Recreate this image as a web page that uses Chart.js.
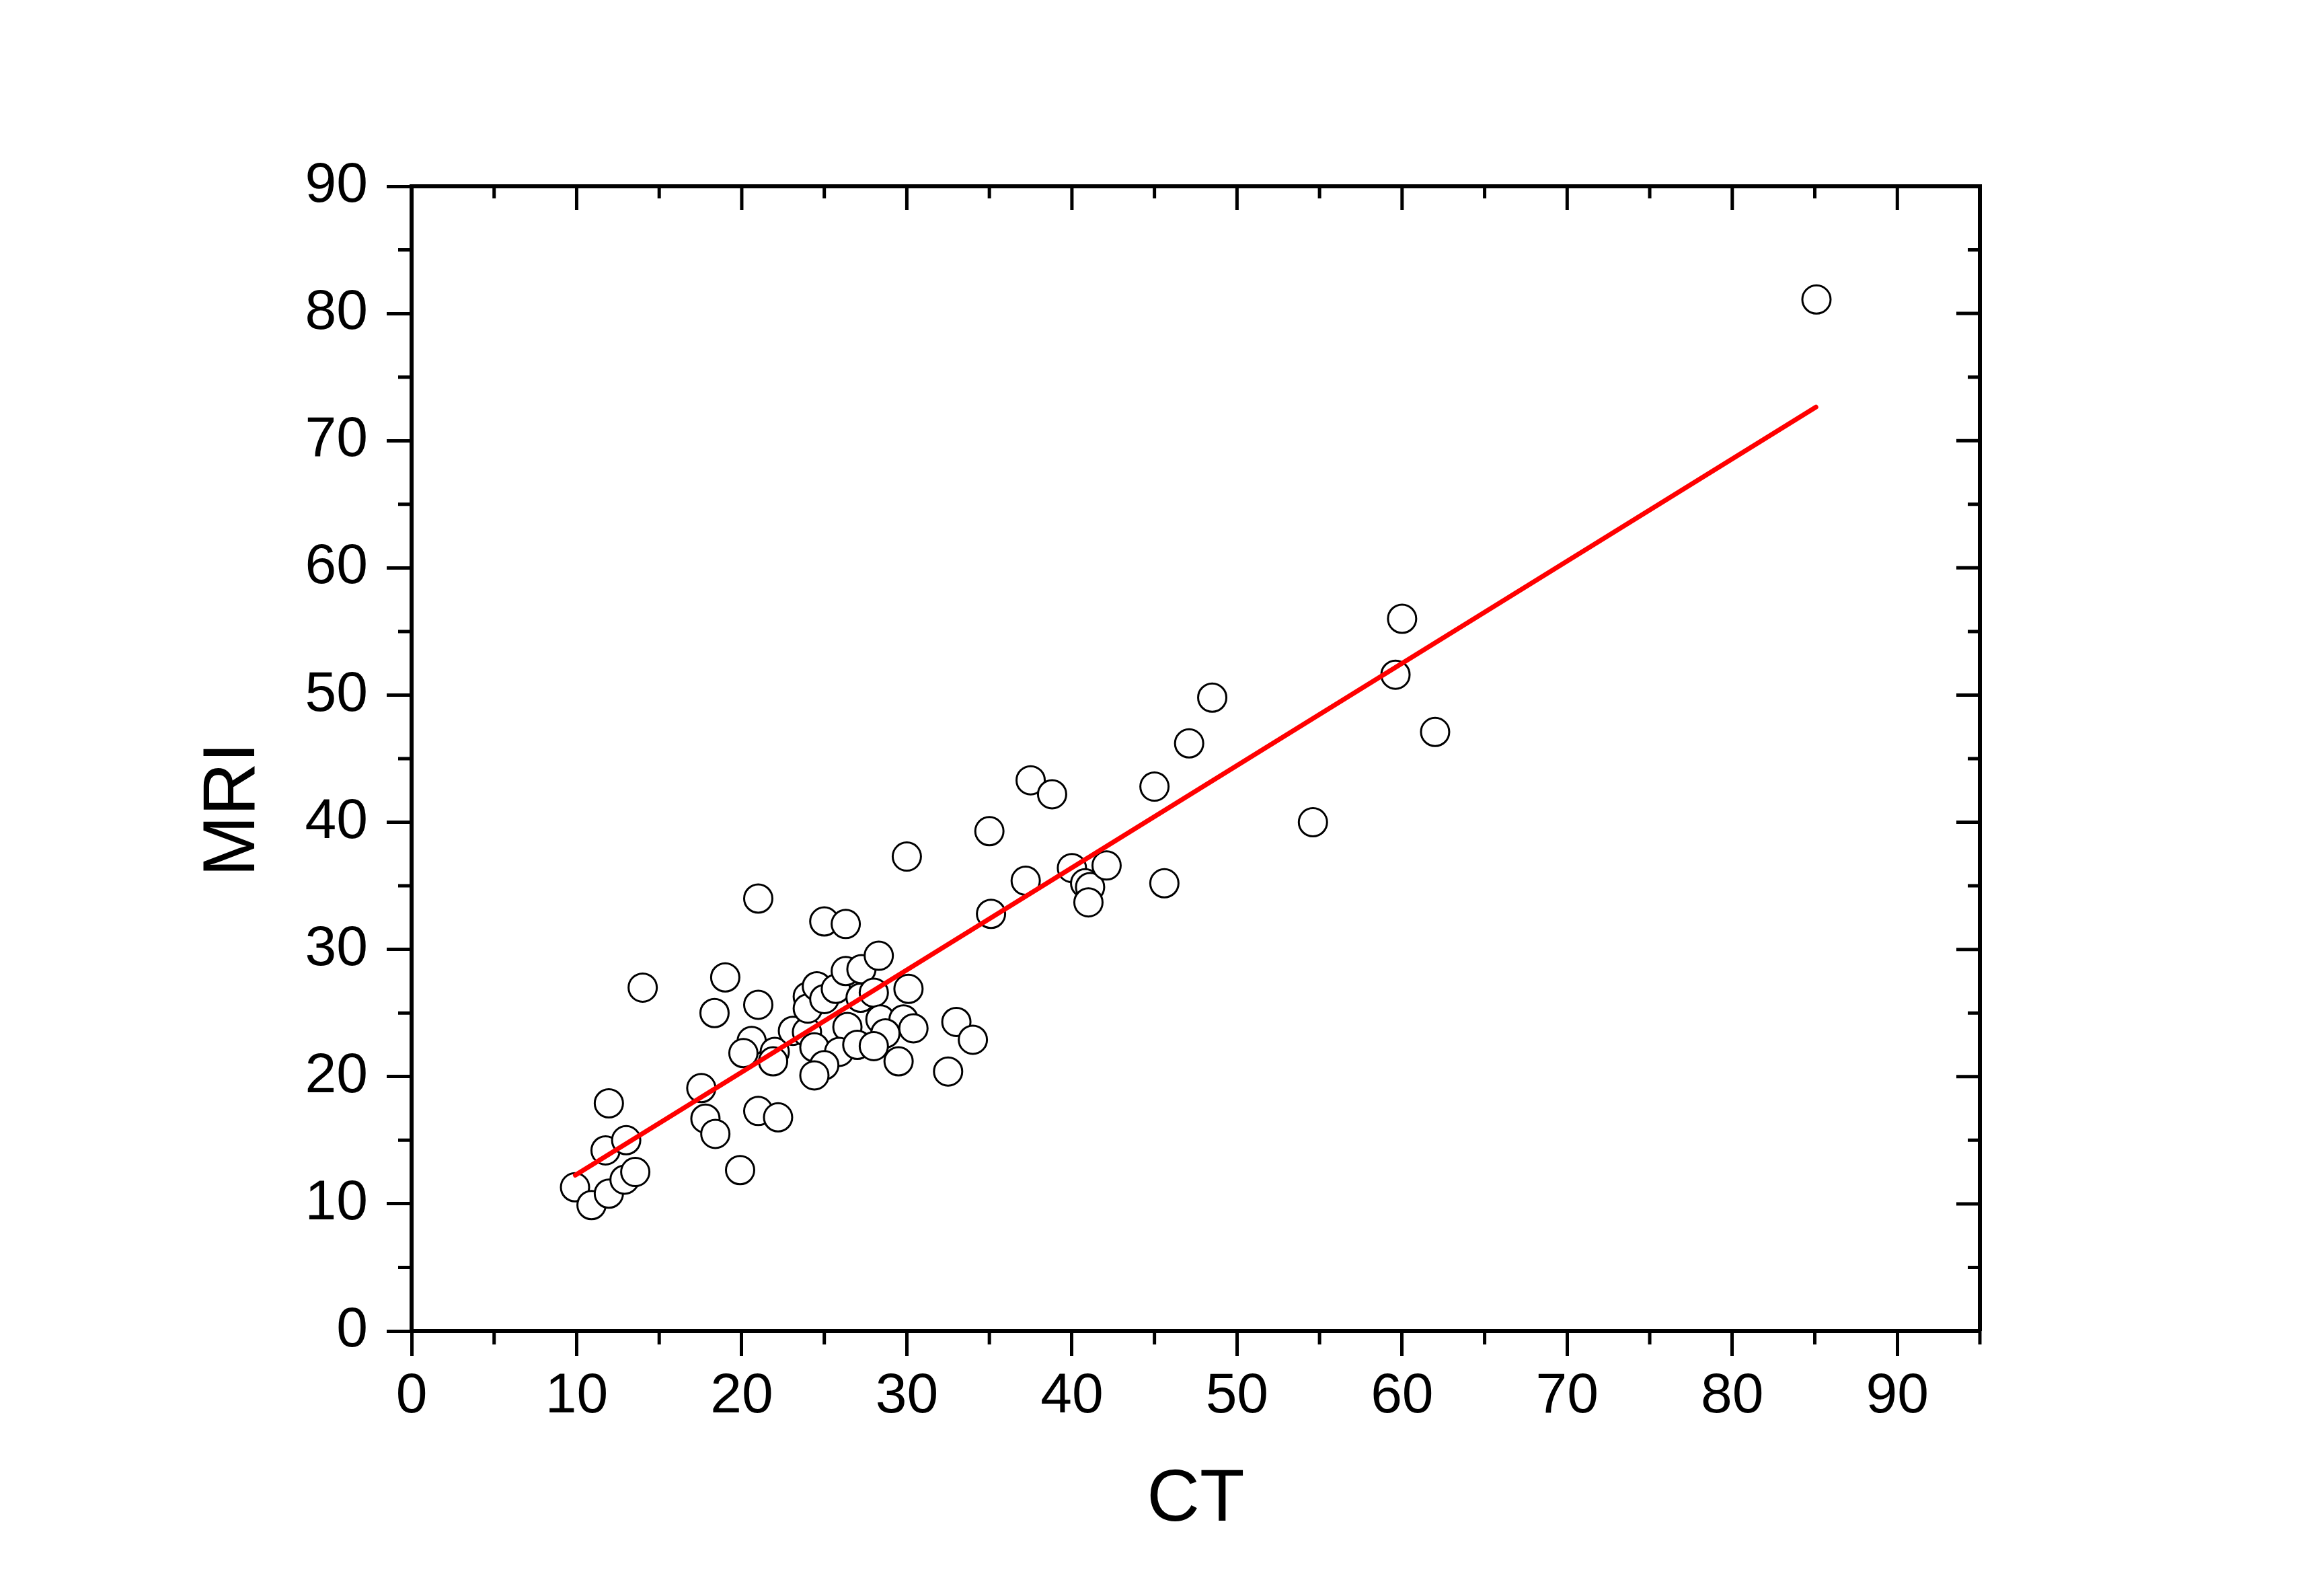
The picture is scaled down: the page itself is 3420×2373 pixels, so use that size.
<!DOCTYPE html>
<html>
<head>
<meta charset="utf-8">
<script src="https://cdn.jsdelivr.net/npm/chart.js@4.4.1/dist/chart.umd.min.js"></script>
<style>
  html, body { margin: 0; padding: 0; background: #fff; }
  #wrap { width: 3420px; height: 2373px; }
</style>
</head>
<body>
<div id="wrap"><canvas id="myChart" width="3420" height="2373"></canvas></div>
<script>
let ct = [9.9, 10.9, 11.95, 12.9, 13.55, 11.75, 13.0, 11.95, 17.55, 17.8,
          18.4, 19.9, 21.0, 22.2, 14.0, 19.0, 18.35, 21.0, 21.0, 20.6,
          20.1, 22.0, 21.9, 23.1, 23.95, 24.0, 24.0, 24.55, 25.0, 25.7,
          26.3, 27.25, 28.3, 25.0, 26.3, 27.2, 28.0, 30.1, 26.4, 28.4,
          29.8, 30.4, 28.7, 24.4, 25.9, 27.0, 28.0, 29.5, 25.0, 24.4,
          33.0, 34.0, 32.5, 30.0, 35.0, 35.1, 37.2, 37.5, 38.8, 40.0,
          40.8, 41.1, 41.0, 42.1, 45.0, 45.6, 47.1, 48.5, 54.6, 59.6,
          60.0, 62.0, 85.1];
let mri = [11.3, 9.9, 10.8, 11.9, 12.5, 14.2, 15.0, 17.9, 19.1, 16.7,
           15.5, 12.65, 17.3, 16.8, 27.0, 27.8, 25.0, 25.65, 34.0, 22.8,
           21.85, 21.95, 21.2, 23.6, 23.5, 26.3, 25.35, 27.1, 26.1, 26.9,
           28.3, 28.45, 29.5, 32.2, 32.0, 26.2, 26.6, 26.9, 23.9, 24.5,
           24.5, 23.8, 23.4, 22.3, 21.95, 22.5, 22.4, 21.2, 20.9, 20.1,
           24.3, 22.9, 20.4, 37.3, 39.3, 32.8, 35.4, 43.3, 42.2, 36.4,
           35.2, 34.9, 33.7, 36.6, 42.8, 35.2, 46.2, 49.8, 40.0, 51.6,
           56.0, 47.1, 81.1];

// linear fit, drawn between the smallest and largest CT
let fitCt = [9.92, 85.07];
let fitMri = [12.25, 72.64];

let xTicks = [0, 10, 20, 30, 40, 50, 60, 70, 80, 90];
let yTicks = [0, 10, 20, 30, 40, 50, 60, 70, 80, 90];
let xMax = 95;
let yMax = 90;

let fontFamily = "'Liberation Sans', Arial, sans-serif";

// minor ticks, plus the top/right frame with inward ticks
let frameTicks = {
    id: 'frameTicks',
    afterDraw(chart) {
        let ctx = chart.ctx;
        let a = chart.chartArea;
        let xs = chart.scales.x;
        let ys = chart.scales.y;
        ctx.save();
        ctx.strokeStyle = '#000';
        ctx.lineWidth = 6;
        ctx.beginPath();
        ctx.moveTo(a.left, a.top);
        ctx.lineTo(a.right, a.top);
        ctx.lineTo(a.right, a.bottom);
        ctx.stroke();

        ctx.lineWidth = 5;
        ctx.beginPath();
        for (let v = 0; v <= xMax; v += 5) {
            let px = xs.getPixelForValue(v);
            let major = v % 10 === 0;
            if (!major) {
                ctx.moveTo(px, a.bottom);
                ctx.lineTo(px, a.bottom + 20);
            }
            if (v > 0 && v < xMax) {
                ctx.moveTo(px, a.top);
                ctx.lineTo(px, a.top + (major ? 35 : 18));
            }
        }
        for (let v = 0; v <= yMax; v += 5) {
            let py = ys.getPixelForValue(v);
            let major = v % 10 === 0;
            if (!major) {
                ctx.moveTo(a.left, py);
                ctx.lineTo(a.left - 20, py);
            }
            if (v > 0 && v < yMax) {
                ctx.moveTo(a.right, py);
                ctx.lineTo(a.right - (major ? 35 : 18), py);
            }
        }
        ctx.stroke();
        ctx.restore();
    }
};

let myChart = document.getElementById('myChart').getContext('2d');

let chart = new Chart(myChart, {
    type: 'scatter',
    data: {
        datasets: [
            {
                type: 'line',
                label: 'fit',
                data: fitCt.map((x, i) => ({ x: x, y: fitMri[i] })),
                borderColor: '#ff0000',
                borderWidth: 7,
                borderCapStyle: 'round',
                pointRadius: 0,
                fill: false,
                order: 0
            },
            {
                label: 'MRI',
                data: ct.map((x, i) => ({ x: x, y: mri[i] })),
                pointRadius: 21,
                pointBorderWidth: 3,
                pointBackgroundColor: '#ffffff',
                pointBorderColor: '#000000',
                pointHoverRadius: 21,
                order: 1
            }
        ]
    },
    options: {
        responsive: false,
        animation: false,
        events: [],
        layout: {
            padding: { top: 277, right: 476, bottom: 0, left: 0 }
        },
        plugins: {
            legend: { display: false },
            tooltip: { enabled: false }
        },
        scales: {
            x: {
                type: 'linear',
                position: 'bottom',
                min: 0,
                max: xMax,
                afterBuildTicks: s => { s.ticks = xTicks.map(v => ({ value: v })); },
                afterFit: s => { s.height = 394; },
                grid: {
                    drawOnChartArea: false,
                    drawTicks: true,
                    tickLength: 37,
                    tickWidth: 5,
                    tickColor: '#000',
                    color: '#000'
                },
                border: { display: true, color: '#000', width: 6 },
                ticks: {
                    color: '#000',
                    padding: 10,
                    maxRotation: 0,
                    autoSkip: false,
                    font: { family: fontFamily, size: 84 }
                },
                title: {
                    display: true,
                    text: 'CT',
                    color: '#000',
                    font: { family: fontFamily, size: 109 },
                    padding: { top: 0, bottom: 77 }
                }
            },
            y: {
                type: 'linear',
                position: 'left',
                min: 0,
                max: yMax,
                afterBuildTicks: s => { s.ticks = yTicks.map(v => ({ value: v })); },
                afterFit: s => { s.width = 612; },
                grid: {
                    drawOnChartArea: false,
                    drawTicks: true,
                    tickLength: 37,
                    tickWidth: 5,
                    tickColor: '#000',
                    color: '#000'
                },
                border: { display: true, color: '#000', width: 6 },
                ticks: {
                    color: '#000',
                    padding: 28,
                    autoSkip: false,
                    font: { family: fontFamily, size: 84 }
                },
                title: {
                    display: true,
                    text: 'MRI     ',
                    color: '#000',
                    font: { family: fontFamily, size: 109 },
                    padding: { top: 283, bottom: 0 }
                }
            }
        }
    },
    plugins: [frameTicks]
});
</script>
</body>
</html>
